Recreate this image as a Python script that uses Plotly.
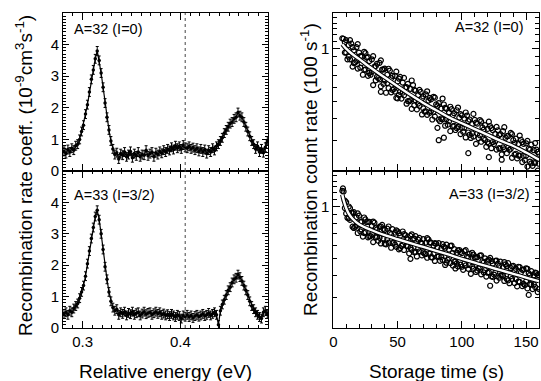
import numpy as np
import plotly.graph_objects as go

# ---------------- data ----------------
# DR spectra (relative energy grid, eV)
e_start, e_step = 0.281, 0.002
rate_a32 = [0.62, 0.55, 0.68, 0.60, 0.72, 0.66, 0.80, 0.85, 1.00, 1.25,
            1.45, 1.80, 2.10, 2.50, 2.90, 3.20, 3.55, 3.80, 3.50, 3.10,
            2.65, 2.15, 1.70, 1.30, 0.95, 0.70, 0.52, 0.58, 0.38, 0.55,
            0.50, 0.60, 0.45, 0.52, 0.62, 0.42, 0.55, 0.48, 0.60, 0.45,
            0.52, 0.50, 0.66, 0.48, 0.55, 0.60, 0.45, 0.58, 0.52, 0.62,
            0.56, 0.66, 0.60, 0.70, 0.65, 0.75, 0.68, 0.80, 0.72, 0.78,
            0.70, 0.82, 0.75, 0.72, 0.78, 0.70, 0.74, 0.66, 0.72, 0.62,
            0.70, 0.60, 0.68, 0.55, 0.66, 0.60, 0.72, 0.65, 0.78, 0.85,
            0.95, 1.05, 1.20, 1.30, 1.40, 1.50, 1.55, 1.65, 1.70, 1.85,
            1.75, 1.70, 1.55, 1.40, 1.25, 1.10, 0.95, 0.85, 0.70, 0.78,
            0.60, 0.70, 0.58, 0.75, 0.95]
rate_a33 = [0.45, 0.50, 0.42, 0.55, 0.50, 0.62, 0.70, 0.78, 0.95, 1.15,
            1.35, 1.65, 2.05, 2.45, 2.85, 3.20, 3.55, 3.75, 3.45, 3.00,
            2.50, 1.95, 1.55, 1.15, 0.85, 0.65, 0.55, 0.60, 0.42, 0.50,
            0.45, 0.52, 0.40, 0.48, 0.44, 0.52, 0.42, 0.47, 0.50, 0.40,
            0.46, 0.52, 0.44, 0.48, 0.50, 0.42, 0.47, 0.52, 0.45, 0.50,
            0.42, 0.46, 0.40, 0.44, 0.38, 0.45, 0.40, 0.35, 0.42, 0.38,
            0.30, 0.40, 0.36, 0.42, 0.35, 0.40, 0.32, 0.38, 0.42, 0.36,
            0.40, 0.45, 0.38, 0.42, 0.48, 0.40, 0.45, 0.50, 0.42, 0.10,
            0.55, 0.75, 0.90, 1.05, 1.20, 1.30, 1.45, 1.55, 1.60, 1.70,
            1.62, 1.50, 1.35, 1.20, 1.05, 0.85, 0.70, 0.60, 0.50, 0.42,
            0.35, 0.30, 0.50, 0.55, 0.45]
err_a32 = 0.14
err_a33 = 0.14
ref_energy = 0.405
energy = np.round(e_start + e_step * np.arange(len(rate_a32)), 4)

# storage-time decay curves (s, 100 s^-1)
t_up = list(range(8, 161, 2))
t_lo = list(range(9, 160, 2))
t_mid = list(range(7, 161, 3))
t_ext = list(range(9, 160, 3))
a32_up = [1.14, 1.12, 1.05, 1.07, 0.98, 1.02, 0.95, 0.90, 0.96, 0.89,
          0.85, 0.87, 0.79, 0.82, 0.83, 0.76, 0.77, 0.71, 0.75, 0.70,
          0.70, 0.65, 0.69, 0.64, 0.60, 0.63, 0.59, 0.62, 0.575, 0.543,
          0.566, 0.534, 0.548, 0.505, 0.514, 0.531, 0.481, 0.489, 0.455, 0.48,
          0.454, 0.433, 0.451, 0.428, 0.445, 0.404, 0.416, 0.399, 0.415, 0.394,
          0.371, 0.392, 0.373, 0.391, 0.355, 0.366, 0.348, 0.361, 0.343, 0.326,
          0.342, 0.325, 0.338, 0.31, 0.317, 0.33, 0.30, 0.306, 0.285, 0.301,
          0.286, 0.288, 0.268, 0.283, 0.263, 0.265, 0.251]
a32_lo = [0.95, 0.87, 0.87, 0.79, 0.835, 0.77, 0.78, 0.71, 0.76, 0.70,
          0.71, 0.62, 0.66, 0.68, 0.61, 0.63, 0.56, 0.596, 0.563, 0.588,
          0.524, 0.543, 0.519, 0.542, 0.485, 0.501, 0.453, 0.475, 0.45, 0.471,
          0.421, 0.437, 0.419, 0.43, 0.394, 0.409, 0.353, 0.385, 0.395, 0.363,
          0.368, 0.338, 0.36, 0.343, 0.357, 0.325, 0.335, 0.311, 0.332, 0.309,
          0.315, 0.286, 0.308, 0.294, 0.306, 0.275, 0.287, 0.27, 0.285, 0.265,
          0.27, 0.249, 0.266, 0.253, 0.264, 0.238, 0.248, 0.236, 0.245, 0.225,
          0.231, 0.212, 0.226, 0.214, 0.222, 0.201]
a32_mid = [1.145, 0.95, 1.12, 0.828, 1.063, 0.827, 0.944, 0.727, 0.906, 0.691,
           0.858, 0.658, 0.768, 0.582, 0.74, 0.567, 0.681, 0.502, 0.658, 0.507,
           0.582, 0.456, 0.571, 0.44, 0.525, 0.393, 0.519, 0.396, 0.466, 0.362,
           0.461, 0.353, 0.432, 0.322, 0.424, 0.328, 0.384, 0.301, 0.383, 0.293,
           0.357, 0.268, 0.356, 0.272, 0.325, 0.251, 0.319, 0.244, 0.297, 0.221,
           0.289, 0.22]
a32_ext = [1.09, 0.90, 1.02, 0.852, 0.907, 0.757, 0.896, 0.739, 0.795, 0.668,
           0.761, 0.637, 0.679, 0.569, 0.675, 0.561, 0.603, 0.507, 0.581, 0.486,
           0.52, 0.438, 0.523, 0.436, 0.472, 0.399, 0.459, 0.385, 0.416, 0.352,
           0.423, 0.354, 0.386, 0.328, 0.378, 0.32, 0.345, 0.293, 0.352, 0.296,
           0.321, 0.273, 0.317, 0.268, 0.289, 0.245, 0.293, 0.245, 0.265, 0.224,
           0.257]
t_out32 = [37, 50, 82, 86, 105, 121, 131]
a32_out = [0.567, 0.52, 0.30, 0.31, 0.253, 0.24, 0.232]
a33_up = [1.22, 1.06, 1.0, 0.92, 0.927, 0.867, 0.885, 0.816, 0.864, 0.813,
          0.815, 0.774, 0.806, 0.739, 0.765, 0.783, 0.733, 0.745, 0.704, 0.741,
          0.707, 0.719, 0.679, 0.718, 0.685, 0.647, 0.677, 0.652, 0.675, 0.645,
          0.621, 0.649, 0.62, 0.647, 0.619, 0.596, 0.612, 0.616, 0.572, 0.588,
          0.603, 0.565, 0.595, 0.569, 0.542, 0.562, 0.54, 0.554, 0.515, 0.534,
          0.542, 0.508, 0.512, 0.522, 0.484, 0.503, 0.488, 0.506, 0.47, 0.487,
          0.469, 0.482, 0.447, 0.464, 0.472, 0.443, 0.455, 0.438, 0.45, 0.418,
          0.433, 0.441, 0.413, 0.425, 0.402, 0.414, 0.402]
a33_lo = [0.98, 0.86, 0.837, 0.765, 0.764, 0.704, 0.72, 0.671, 0.713, 0.665,
          0.676, 0.624, 0.665, 0.635, 0.613, 0.655, 0.606, 0.619, 0.579, 0.619,
          0.586, 0.567, 0.593, 0.562, 0.594, 0.538, 0.563, 0.545, 0.516, 0.552,
          0.523, 0.535, 0.507, 0.536, 0.509, 0.486, 0.514, 0.487, 0.493, 0.461,
          0.494, 0.473, 0.457, 0.483, 0.452, 0.463, 0.432, 0.458, 0.438, 0.41,
          0.439, 0.42, 0.44, 0.407, 0.418, 0.395, 0.419, 0.396, 0.406, 0.375,
          0.389, 0.402, 0.373, 0.382, 0.362, 0.383, 0.363, 0.347, 0.368, 0.348,
          0.353, 0.338, 0.358, 0.335, 0.344, 0.322]
a33_mid = [1.23, 0.911, 0.979, 0.752, 0.912, 0.738, 0.842, 0.674, 0.819, 0.668,
           0.767, 0.61, 0.767, 0.616, 0.729, 0.577, 0.694, 0.591, 0.692, 0.549,
           0.659, 0.544, 0.657, 0.511, 0.615, 0.517, 0.607, 0.475, 0.593, 0.481,
           0.559, 0.45, 0.561, 0.461, 0.529, 0.428, 0.523, 0.43, 0.495, 0.394,
           0.488, 0.40, 0.479, 0.376, 0.453, 0.382, 0.448, 0.359, 0.438, 0.356,
           0.416, 0.335]
a33_ext = [1.08, 0.855, 0.918, 0.778, 0.814, 0.704, 0.814, 0.694, 0.751, 0.66,
           0.744, 0.65, 0.693, 0.603, 0.702, 0.603, 0.656, 0.578, 0.654, 0.573,
           0.612, 0.533, 0.621, 0.534, 0.581, 0.512, 0.579, 0.507, 0.54, 0.47,
           0.548, 0.47, 0.511, 0.451, 0.51, 0.447, 0.477, 0.416, 0.485, 0.417,
           0.454, 0.40, 0.454, 0.397, 0.424, 0.37, 0.432, 0.371, 0.404, 0.356,
           0.404]
t_out33 = [7.5, 60, 95, 122, 152]
a33_out = [1.27, 0.50, 0.44, 0.35, 0.31]

fit_t = [7, 8, 10, 12, 15, 20, 30, 40, 50, 60, 70, 80, 90, 100, 110, 120, 130, 140, 150, 160]
fit_a32 = [1.06, 1.04, 1.0, 0.97, 0.93, 0.875, 0.77, 0.685, 0.61, 0.545,
           0.49, 0.445, 0.405, 0.375, 0.347, 0.322, 0.298, 0.278, 0.255, 0.232]
fit_a33 = [1.17, 1.09, 0.98, 0.91, 0.85, 0.79, 0.73, 0.685, 0.648, 0.615,
           0.585, 0.556, 0.528, 0.5, 0.475, 0.452, 0.43, 0.41, 0.39, 0.372]

labels = ["A=32 (I=0)", "A=33 (I=3/2)"]
log_minor = [0.2, 0.3, 0.4, 0.5, 0.6, 0.7, 0.8, 0.9, 1.1, 1.2, 1.3, 1.4, 1.5]

# ---------------- figure ----------------
FONT = "Liberation Sans, Arial, Helvetica, sans-serif"
W, H = 541, 381
ML, MR, MT, MB = 63, 2, 13, 53
PW, PH = W - ML - MR, H - MT - MB

def px(x):
    return (x - ML) / PW

def py(y):
    return (H - MB - y) / PH

fig = go.Figure()

def spectrum(x, y, err, xa, ya):
    fig.add_trace(go.Scatter(
        x=x, y=y, mode="lines+markers", xaxis=xa, yaxis=ya,
        line=dict(color="black", width=1.2),
        marker=dict(color="black", size=3.5),
        error_y=dict(type="constant", value=err, color="black", thickness=1, width=1.5),
        showlegend=False, hoverinfo="skip"))

spectrum(energy, rate_a32, err_a32, "x", "y")
spectrum(energy, rate_a33, err_a33, "x2", "y2")

def decay(series, fy, xa, ya):
    for tt, yy in series:
        fig.add_trace(go.Scatter(
            x=tt, y=yy, mode="markers", xaxis=xa, yaxis=ya,
            marker=dict(symbol="circle-open", size=5, color="black",
                        line=dict(width=1.2, color="black")),
            showlegend=False, hoverinfo="skip"))
    fig.add_trace(go.Scatter(x=fit_t, y=fy, mode="lines", xaxis=xa, yaxis=ya,
                             line=dict(color="black", width=4.5, shape="spline"),
                             showlegend=False, hoverinfo="skip"))
    fig.add_trace(go.Scatter(x=fit_t, y=fy, mode="lines", xaxis=xa, yaxis=ya,
                             line=dict(color="white", width=2.4, shape="spline"),
                             showlegend=False, hoverinfo="skip"))

decay([(t_up, a32_up), (t_lo, a32_lo), (t_mid, a32_mid), (t_ext, a32_ext),
       (t_out32, a32_out)], fit_a32, "x3", "y3")
decay([(t_up, a33_up), (t_lo, a33_lo), (t_mid, a33_mid), (t_ext, a33_ext),
       (t_out33, a33_out)], fit_a33, "x4", "y4")

left_dom = [0, px(268.3)]
right_dom = [px(333.3), 1.0]
split = py(171)
top_dom = [split, 1.0]
bot_dom = [0, split]

axis_common = dict(showline=True, linecolor="black", linewidth=1, mirror="allticks",
                   ticks="inside", tickcolor="black", zeroline=False, showgrid=False,
                   tickfont=dict(family=FONT, size=15, color="black"))

def ex_axis(dom, anchor, labels_on):
    return dict(axis_common, domain=dom, anchor=anchor, range=[0.28, 0.49],
                tickvals=[0.3, 0.4], ticktext=["0.3", "0.4"], ticklen=7,
                showticklabels=labels_on,
                minor=dict(dtick=0.01, tick0=0.28, ticks="inside", ticklen=3,
                           tickcolor="black", showgrid=False))

def t_axis(dom, anchor, labels_on):
    return dict(axis_common, domain=dom, anchor=anchor, range=[0, 160],
                tickvals=[0, 50, 100, 150], ticklen=7, showticklabels=labels_on,
                minor=dict(dtick=10, tick0=0, ticks="inside", ticklen=4,
                           tickcolor="black", showgrid=False))

def rate_axis(dom, anchor):
    return dict(axis_common, domain=dom, anchor=anchor, range=[0, 5],
                tickvals=[0, 1, 2, 3, 4], ticklen=6,
                minor=dict(dtick=0.1, tick0=0, ticks="inside", ticklen=3,
                           tickcolor="black", showgrid=False))

def count_axis(dom, anchor):
    return dict(axis_common, domain=dom, anchor=anchor, type="log",
                range=[np.log10(0.2), np.log10(1.6)],
                tickvals=[1], ticktext=["1"], ticklen=7,
                minor=dict(tickvals=log_minor, ticks="inside", ticklen=4,
                           tickcolor="black", showgrid=False))

fig.update_layout(
    width=W, height=H, autosize=False,
    margin=dict(l=ML, r=MR, t=MT, b=MB),
    paper_bgcolor="white", plot_bgcolor="white",
    font=dict(family=FONT, size=15, color="black"),
    xaxis=ex_axis(left_dom, "y", False),
    yaxis=rate_axis(top_dom, "x"),
    xaxis2=ex_axis(left_dom, "y2", True),
    yaxis2=rate_axis(bot_dom, "x2"),
    xaxis3=t_axis(right_dom, "y3", False),
    yaxis3=count_axis(top_dom, "x3"),
    xaxis4=t_axis(right_dom, "y4", True),
    yaxis4=count_axis(bot_dom, "x4"),
)

# reference line
for xa, ya in (("x", "y"), ("x2", "y2")):
    fig.add_shape(type="line", xref=xa, yref=ya,
                  x0=ref_energy, x1=ref_energy, y0=0, y1=5,
                  line=dict(color="#444444", width=1, dash="dot"), layer="above")

ann_font = dict(family=FONT, size=14.5, color="black")
title_font = dict(family=FONT, size=19, color="black")
anns = [
    dict(text=labels[0], x=px(72), y=py(29), xanchor="left", yanchor="middle", font=ann_font),
    dict(text=labels[1], x=px(72), y=py(195), xanchor="left", yanchor="middle", font=ann_font),
    dict(text=labels[0], x=px(526), y=py(27), xanchor="right", yanchor="middle", font=ann_font),
    dict(text=labels[1], x=px(532), y=py(194), xanchor="right", yanchor="middle", font=ann_font),
    dict(text="Relative energy (eV)", x=px(165.5), y=py(371), xanchor="center", yanchor="middle", font=title_font),
    dict(text="Storage time (s)", x=px(436), y=py(371), xanchor="center", yanchor="middle", font=title_font),
    dict(text="Recombination rate coeff. (10<sup>-9</sup>cm<sup>3</sup>s<sup>-1</sup>)",
         x=px(24), y=py(176), xanchor="center", yanchor="middle", textangle=-90, font=title_font),
    dict(text="Recombination count rate (100 s<sup>-1</sup>)",
         x=px(309), y=py(170), xanchor="center", yanchor="middle", textangle=-90, font=title_font),
]
for a in anns:
    fig.add_annotation(xref="paper", yref="paper", showarrow=False, **a)

fig.write_html("out.html", config={"displayModeBar": False},
               post_script="document.body.style.margin='0px';")
